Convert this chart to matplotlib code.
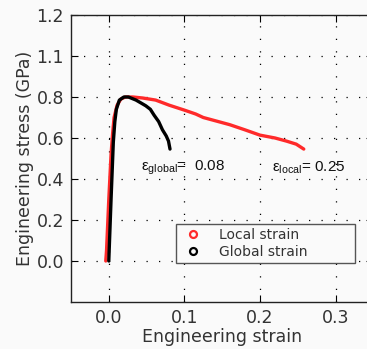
import matplotlib
matplotlib.use("Agg")
from matplotlib import pyplot as plt
from matplotlib.lines import Line2D

# red curve: strain measured locally
local_strain = [-0.004, -0.003, 0.0, 0.003, 0.005, 0.007, 0.011, 0.016, 0.022, 0.032,
                0.045, 0.062, 0.08, 0.1, 0.115, 0.125, 0.135, 0.16, 0.18, 0.2,
                0.22, 0.235, 0.248, 0.258]
local_stress = [0.0, 0.05, 0.30, 0.52, 0.62, 0.70, 0.76, 0.79, 0.80, 0.80,
                0.795, 0.785, 0.76, 0.736, 0.717, 0.70, 0.69, 0.665, 0.64, 0.614,
                0.60, 0.585, 0.57, 0.546]

# black curve: global strain
global_strain = [0.0, 0.003, 0.006, 0.008, 0.010, 0.014, 0.020, 0.026, 0.036,
                 0.043, 0.049, 0.055, 0.060, 0.066, 0.071, 0.076, 0.079, 0.081]
global_stress = [0.0, 0.30, 0.58, 0.68, 0.74, 0.785, 0.80, 0.80, 0.785,
                 0.77, 0.757, 0.74, 0.711, 0.68, 0.64, 0.61, 0.585, 0.546]

y_ticks = [0.0, 0.2, 0.4, 0.6, 0.8, 1.0, 1.2]
y_labels = ["0.0", "0.2", "0.4", "0.6", "0.8", "1.1", "1.2"]
x_ticks = [0.0, 0.1, 0.2, 0.3]

plt.rcParams['mathtext.fontset'] = 'custom'
plt.rcParams['mathtext.rm'] = 'Liberation Sans'
plt.rcParams['mathtext.it'] = 'Liberation Sans'

fig = plt.figure(figsize=(3.67, 3.49), dpi=100, facecolor='#fafafa')
ax = fig.add_axes([71/367, 47/349, 302.3/367, 287/349])
ax.set_facecolor('#fafafa')

ax.plot(local_strain, local_stress, color='#ff2a2a', lw=2.4, solid_capstyle='round')
ax.plot(global_strain, global_stress, color='black', lw=2.4, solid_capstyle='round')

ax.set_xlim(-0.05, 0.35)
ax.set_ylim(-0.2, 1.2)
ax.set_xticks(x_ticks)
ax.set_yticks(y_ticks)
ax.set_yticklabels(y_labels)
ax.tick_params(direction='in', length=5, width=0.8, labelsize=12.5,
               labelcolor='#333333', top=True, right=True, pad=5)
ax.grid(True, color='black', lw=0.9, linestyle=(0, (1, 9)))
for s in ax.spines.values():
    s.set_linewidth(1.0)
    s.set_color('#222222')

ax.set_xlabel("Engineering strain", fontsize=12.5, color='#333333', labelpad=1)
ax.set_ylabel("Engineering stress (GPa)", fontsize=12.5, color='#333333', labelpad=2)

ax.text(0.043, 0.455, r'$\mathrm{\varepsilon}_{\mathrm{global}}$=  0.08', fontsize=11,
        family='Liberation Sans', va='center', ha='left', color='#111111')
ax.text(0.216, 0.455, r'$\mathrm{\varepsilon}_{\mathrm{local}}$= 0.25', fontsize=11,
        family='Liberation Sans', va='center', ha='left', color='#111111')

handles = [Line2D([], [], ls='none', marker='o', mfc='none', mec='#ff2a2a', mew=1.6, ms=5),
           Line2D([], [], ls='none', marker='o', mfc='none', mec='black', mew=1.6, ms=5)]
leg = ax.legend(handles, ["Local strain", "Global strain"], loc='lower left',
                bbox_to_anchor=(0.347, 0.136, 0.593, 0.125), mode='expand',
                borderaxespad=0, fontsize=10, handlelength=1.8, handletextpad=1.0,
                borderpad=0.3, labelspacing=0.2, fancybox=False, framealpha=1,
                edgecolor='#555555', facecolor='#fafafa')
for t in leg.get_texts():
    t.set_color('#333333')

fig.savefig("out.png", dpi=100, facecolor=fig.get_facecolor())
